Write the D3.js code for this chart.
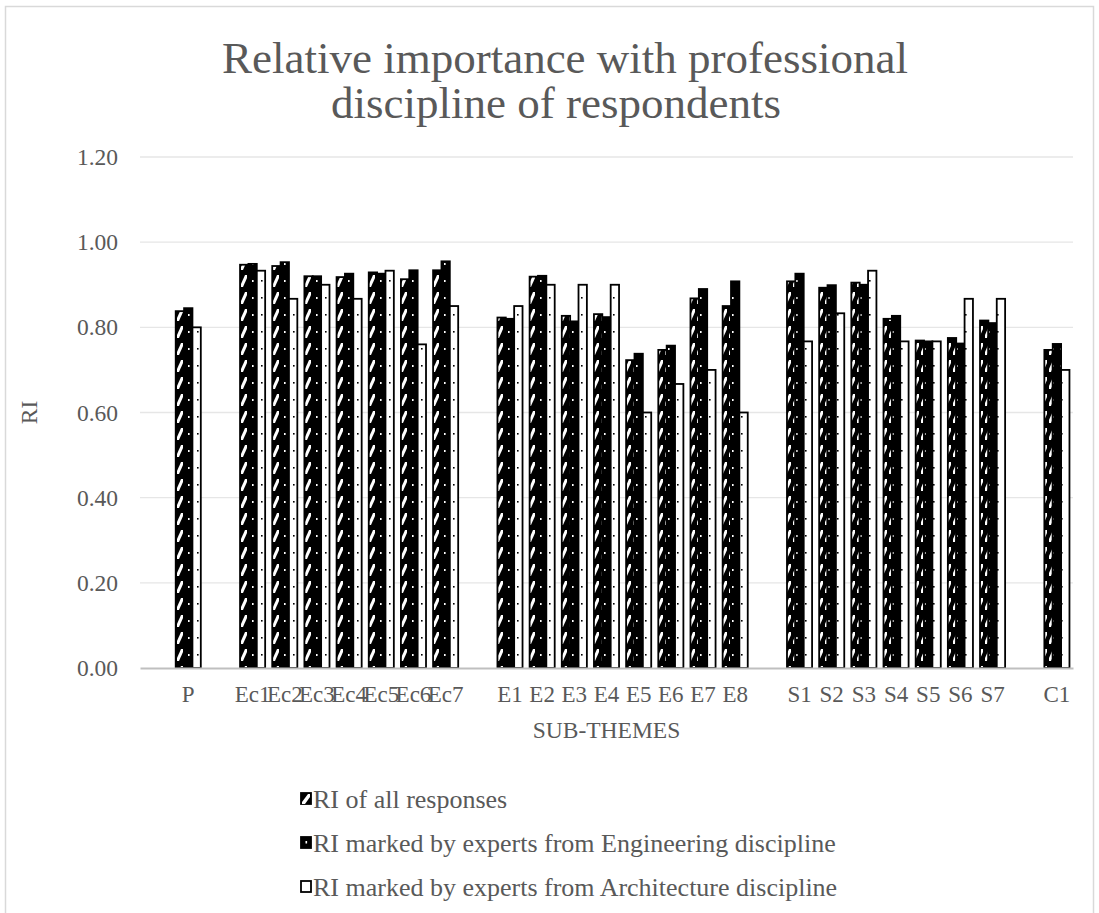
<!DOCTYPE html>
<html>
<head>
<meta charset="utf-8">
<script src="https://cdn.jsdelivr.net/npm/d3@7"></script>
<style>
  html, body { margin: 0; padding: 0; background: #fff; }
  svg { display: block; font-family: "Liberation Serif", "Times New Roman", serif; }
</style>
</head>
<body>
<svg id="chart" width="1099" height="913"></svg>
<script>
// Sub-theme categories; empty strings are spacer slots between theme groups
const categories = ["", "P", "", "Ec1", "Ec2", "Ec3", "Ec4", "Ec5", "Ec6", "Ec7", "",
  "E1", "E2", "E3", "E4", "E5", "E6", "E7", "E8", "",
  "S1", "S2", "S3", "S4", "S5", "S6", "S7", "", "C1"];

const riAll = [null, 0.838, null, 0.947, 0.944, 0.920, 0.918, 0.929, 0.913, 0.934, null,
  0.823, 0.919, 0.827, 0.831, 0.723, 0.747, 0.868, 0.850, null,
  0.908, 0.893, 0.905, 0.820, 0.769, 0.775, 0.816, null, 0.747];

const riEngineering = [null, 0.845, null, 0.949, 0.953, 0.920, 0.926, 0.926, 0.934, 0.955, null,
  0.820, 0.921, 0.814, 0.824, 0.738, 0.757, 0.890, 0.908, null,
  0.926, 0.899, 0.900, 0.827, 0.767, 0.762, 0.810, null, 0.761];

const riArchitecture = [null, 0.800, null, 0.933, 0.867, 0.900, 0.867, 0.933, 0.760, 0.850, null,
  0.850, 0.900, 0.900, 0.900, 0.600, 0.667, 0.700, 0.600, null,
  0.767, 0.833, 0.933, 0.767, 0.767, 0.867, 0.867, null, 0.700];

const seriesNames = ["RI of all responses",
  "RI marked by experts from Engineering discipline",
  "RI marked by experts from Architecture discipline"];

const yTicks = [0, 0.2, 0.4, 0.6, 0.8, 1.0, 1.2];

const series = [
  { name: seriesNames[0], values: riAll, fill: "url(#patAll)" },
  { name: seriesNames[1], values: riEngineering, fill: "url(#patEng)" },
  { name: seriesNames[2], values: riArchitecture, fill: "url(#patArch)" }
];

const svg = d3.select("#chart");
const textColor = "#595959";

// Chart area outline
svg.append("rect")
  .attr("x", 5.5).attr("y", 6.5)
  .attr("width", 1088).attr("height", 940)
  .attr("fill", "#fff").attr("stroke", "#d9d9d9").attr("stroke-width", 1.5);

// Fill patterns
const defs = svg.append("defs");

const pAll = defs.append("pattern").attr("id", "patAll")
  .attr("patternUnits", "userSpaceOnUse").attr("width", 8).attr("height", 17);
pAll.append("rect").attr("width", 8).attr("height", 17).attr("fill", "#000");
pAll.append("path").attr("d", "M1,15 L3,15 L7,6 L7,3 L5,3 L1,12 Z").attr("fill", "#fff");

const pEng = defs.append("pattern").attr("id", "patEng")
  .attr("patternUnits", "userSpaceOnUse").attr("width", 8).attr("height", 17);
pEng.append("rect").attr("width", 8).attr("height", 17).attr("fill", "#000");
pEng.append("rect").attr("x", 4).attr("y", 8).attr("width", 1.6).attr("height", 2).attr("fill", "#fff");

const pArch = defs.append("pattern").attr("id", "patArch")
  .attr("patternUnits", "userSpaceOnUse").attr("width", 8).attr("height", 17);
pArch.append("rect").attr("width", 8).attr("height", 17).attr("fill", "#fff");
pArch.append("rect").attr("x", 5).attr("y", 8).attr("width", 1.6).attr("height", 1.6).attr("fill", "#000");

// Plot area
const plot = { left: 140, right: 1073, top: 157, bottom: 668 };

const x = d3.scaleBand()
  .domain(d3.range(categories.length))
  .range([plot.left, plot.right])
  .paddingInner(0).paddingOuter(0);

const groupWidth = x.bandwidth() * 0.78;
const xs = d3.scaleBand()
  .domain(d3.range(series.length))
  .range([0, groupWidth])
  .padding(0);

const y = d3.scaleLinear().domain([0, 1.2]).range([plot.bottom, plot.top]);

// Title
const title = svg.append("text")
  .attr("text-anchor", "middle")
  .attr("fill", textColor)
  .attr("font-size", 45);
title.append("tspan").attr("x", 565).attr("y", 73).text("Relative importance with professional");
title.append("tspan").attr("x", 556).attr("y", 118).text("discipline of respondents");

// Gridlines
svg.append("g").selectAll("line")
  .data(yTicks.filter(d => d > 0))
  .join("line")
  .attr("x1", plot.left).attr("x2", plot.right)
  .attr("y1", d => y(d)).attr("y2", d => y(d))
  .attr("stroke", "#e6e6e6").attr("stroke-width", 1.3);

// Y axis labels
const yAxis = d3.axisLeft(y).tickValues(yTicks).tickFormat(d3.format(".2f")).tickSize(0).tickPadding(22);
const gy = svg.append("g").attr("transform", `translate(${plot.left},0)`).call(yAxis);
gy.select(".domain").remove();
gy.selectAll("text")
  .attr("fill", textColor)
  .attr("font-size", 23.5)
  .attr("font-family", "Liberation Serif, serif");

// Bars
const groups = svg.append("g").selectAll("g")
  .data(series)
  .join("g");

groups.selectAll("rect")
  .data((s, si) => s.values.map((v, i) => ({ v, i, si, fill: s.fill })).filter(d => d.v != null))
  .join("rect")
  .attr("x", d => x(d.i) + (x.bandwidth() - groupWidth) / 2 + xs(d.si))
  .attr("y", d => y(d.v))
  .attr("width", xs.bandwidth())
  .attr("height", d => y(0) - y(d.v))
  .attr("fill", d => d.fill)
  .attr("stroke", "#000")
  .attr("stroke-width", 1.8);

// X axis baseline and labels
const xAxis = d3.axisBottom(x).tickFormat(i => categories[i]).tickSize(0).tickPadding(18);
const gx = svg.append("g").attr("transform", `translate(0,${plot.bottom})`).call(xAxis);
gx.select(".domain").attr("stroke", "#bfbfbf").attr("stroke-width", 2.2);
gx.selectAll("text")
  .attr("fill", textColor)
  .attr("font-size", 23)
  .attr("font-family", "Liberation Serif, serif");

// Axis titles
svg.append("text")
  .attr("x", (plot.left + plot.right) / 2).attr("y", 738)
  .attr("text-anchor", "middle").attr("fill", textColor)
  .attr("font-size", 23.5).text("SUB-THEMES");

svg.append("text")
  .attr("transform", `translate(37,${(plot.top + plot.bottom) / 2}) rotate(-90)`)
  .attr("text-anchor", "middle").attr("fill", textColor)
  .attr("font-size", 23.5).text("RI");

// Legend
const legend = svg.append("g").selectAll("g")
  .data(series)
  .join("g")
  .attr("transform", (d, i) => `translate(301,${800 + i * 44})`);

legend.append("rect")
  .attr("x", 0).attr("y", -7).attr("width", 10).attr("height", 11)
  .attr("fill", (d, i) => i === 2 ? "#fff" : "#000")
  .attr("stroke", "#000").attr("stroke-width", 1.8);
legend.filter((d, i) => i === 0).append("path")
  .attr("d", "M1,4 L4,4 L9,-3 L9,-6 L7,-6 L1,2 Z").attr("fill", "#fff");
legend.filter((d, i) => i === 1).append("rect")
  .attr("x", 4.5).attr("y", -3).attr("width", 1.6).attr("height", 2.5).attr("fill", "#fff");

legend.append("text")
  .attr("x", 12).attr("y", 8)
  .attr("fill", textColor).attr("font-size", 26)
  .text(d => d.name);
</script>
</body>
</html>
